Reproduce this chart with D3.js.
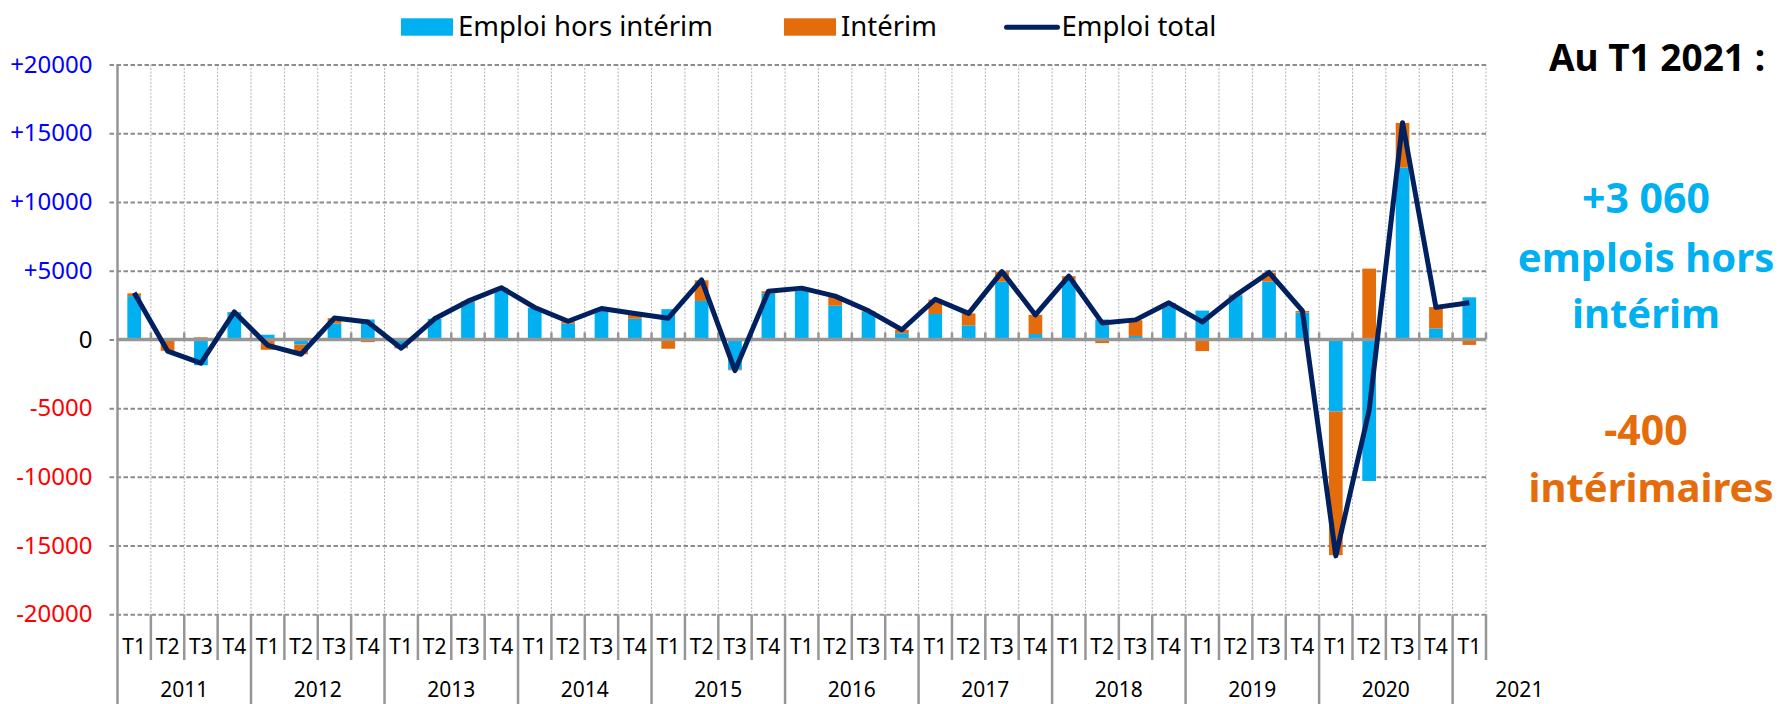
<!DOCTYPE html>
<html>
<head>
<meta charset="utf-8">
<script src="https://cdn.jsdelivr.net/npm/d3@7"></script>
<style>
  body { margin: 0; background: #fff; }
  svg { display: block; font-family: "Noto Sans", sans-serif; }
</style>
</head>
<body>
<svg id="viz"></svg>
<script>
// ---- data ----
const years = ["2011", "2012", "2013", "2014", "2015", "2016", "2017", "2018", "2019", "2020", "2021"];
const quarterNames = ["T1", "T2", "T3", "T4"];

// variation trimestrielle (2011 T1 .. 2021 T1)
const horsInterim = [
  3150, -50, -1880, 1980,
  340, -380, 1150, 1450,
  -550, 1500, 2750, 3750,
  2300, 1150, 2250, 1500,
  2200, 2800, -2200, 3350,
  3750, 2450, 2000, 450,
  1850, 1020, 4200, 390,
  4350, 1450, 250, 2650,
  2100, 3200, 4200, 1950,
  -5250, -10300, 12500, 800,
  3060
];
const interim = [
  200, -780, 150, 20,
  -760, -700, 400, -200,
  -100, 0, 30, 0,
  0, 150, 0, 350,
  -680, 1500, -50, 150,
  0, 700, 50, 250,
  1050, 870, 730, 1400,
  250, -270, 1150, 0,
  -850, 60, 650, 120,
  -10450, 5150, 3250, 1550,
  -400
];
const emploiTotal = [
  3390, -850, -1730, 2000,
  -430, -1080, 1560, 1260,
  -640, 1500, 2780, 3760,
  2320, 1320, 2250, 1880,
  1540, 4330, -2270, 3500,
  3730, 3150, 2080, 700,
  2920, 1890, 4930, 1780,
  4610, 1200, 1420, 2660,
  1270, 3200, 4870, 2070,
  -15750, -5150, 15770, 2330,
  2660
];
const yTicks = [20000, 15000, 10000, 5000, 0, -5000, -10000, -15000, -20000];

const legendItems = [
  { label: "Emploi hors intérim", type: "rect", color: "#00B0F0" },
  { label: "Intérim", type: "rect", color: "#E46C0A" },
  { label: "Emploi total", type: "line", color: "#002060" }
];

// ---- chart ----
const width = 1778, height = 704;
const margin = { top: 64.5, right: 292, bottom: 89.7, left: 117.5 };

const periods = [];
years.forEach(y => quarterNames.forEach(q => {
  if (periods.length < horsInterim.length) periods.push({ year: y, q: q, key: y + q });
}));

const rows = periods.map((p, i) => ({ key: p.key, hors: horsInterim[i], interim: interim[i], total: emploiTotal[i] }));

const svg = d3.select("#viz")
  .attr("width", width)
  .attr("height", height)
  .attr("viewBox", [0, 0, width, height]);

const x = d3.scaleBand()
  .domain(periods.map(p => p.key))
  .range([margin.left, width - margin.right])
  .paddingInner(0).paddingOuter(0);
const bw = x.bandwidth();

const y = d3.scaleLinear()
  .domain([-20000, 20000])
  .range([height - margin.bottom, margin.top]);

const plotBottom = y(-20000);
const plotRight = width - margin.right;

// vertical dotted gridlines at category boundaries
svg.append("g")
  .selectAll("line")
  .data(d3.range(1, periods.length + 1))
  .join("line")
    .attr("x1", i => margin.left + i * bw)
    .attr("x2", i => margin.left + i * bw)
    .attr("y1", y(20000))
    .attr("y2", plotBottom)
    .attr("stroke", "#b4b4b4")
    .attr("stroke-width", 1)
    .attr("stroke-dasharray", "2,1.5");

// horizontal dashed gridlines + tick labels
const yAxis = svg.append("g")
  .attr("transform", `translate(${margin.left},0)`)
  .call(d3.axisLeft(y).tickValues(yTicks).tickSize(-(plotRight - margin.left)).tickPadding(25)
    .tickFormat(d => d > 0 ? "+" + d : String(d)))
  .call(g => g.select(".domain").remove());

yAxis.selectAll(".tick line")
  .attr("x1", -8)
  .attr("stroke", "#8c8c8c")
  .attr("stroke-width", 2)
  .attr("stroke-dasharray", "4.5,2.5");

yAxis.selectAll(".tick text")
  .attr("font-size", 24)
  .attr("font-family", "'Noto Sans', sans-serif")
  .attr("fill", d => d > 0 ? "#0000FF" : (d < 0 ? "#FF0000" : "#000"));

// stacked bars (diverging)
const stack = d3.stack()
  .keys(["hors", "interim"])
  .offset(d3.stackOffsetDiverging);
const series = stack(rows);
const colors = { hors: "#00B0F0", interim: "#E46C0A" };
const barW = bw * 0.41;

svg.append("g")
  .selectAll("g")
  .data(series)
  .join("g")
    .attr("fill", s => colors[s.key])
  .selectAll("rect")
  .data(s => s)
  .join("rect")
    .attr("x", d => x(d.data.key) + (bw - barW) / 2)
    .attr("width", barW)
    .attr("y", d => y(Math.max(d[0], d[1])))
    .attr("height", d => Math.abs(y(d[0]) - y(d[1])));

// zero line with tick marks
const y0 = y(0);
svg.append("line")
  .attr("x1", margin.left).attr("x2", plotRight)
  .attr("y1", y0).attr("y2", y0)
  .attr("stroke", "#969696").attr("stroke-width", 3.5);

svg.append("g")
  .selectAll("line")
  .data(d3.range(1, periods.length + 1))
  .join("line")
    .attr("x1", i => margin.left + i * bw)
    .attr("x2", i => margin.left + i * bw)
    .attr("y1", y0 - 7)
    .attr("y2", y0)
    .attr("stroke", "#969696")
    .attr("stroke-width", 2.5);

// left axis line (runs down through the label area)
svg.append("line")
  .attr("x1", margin.left).attr("x2", margin.left)
  .attr("y1", y(20000)).attr("y2", height)
  .attr("stroke", "#969696").attr("stroke-width", 2.5);

// category separators
svg.append("g")
  .selectAll("line")
  .data(d3.range(1, periods.length + 1))
  .join("line")
    .attr("x1", i => margin.left + i * bw)
    .attr("x2", i => margin.left + i * bw)
    .attr("y1", plotBottom)
    .attr("y2", i => (i % 4 === 0) ? height : 660)
    .attr("stroke", "#969696")
    .attr("stroke-width", 2.5);

// quarter labels
svg.append("g")
  .selectAll("text")
  .data(periods)
  .join("text")
    .attr("x", d => x(d.key) + bw / 2)
    .attr("y", 653.5)
    .attr("text-anchor", "middle")
    .attr("font-size", 21)
    .attr("fill", "#000")
    .text(d => d.q);

// year labels (centered on 4 quarters)
svg.append("g")
  .selectAll("text")
  .data(years)
  .join("text")
    .attr("x", (d, k) => margin.left + (4 * k + 2) * bw)
    .attr("y", 697)
    .attr("text-anchor", "middle")
    .attr("font-size", 21)
    .attr("fill", "#000")
    .text(d => d);

// total line
const line = d3.line()
  .x(d => x(d.key) + bw / 2)
  .y(d => y(d.total));

svg.append("path")
  .datum(rows)
  .attr("d", line)
  .attr("fill", "none")
  .attr("stroke", "#002060")
  .attr("stroke-width", 5)
  .attr("stroke-linejoin", "round");

// legend
const legendX = [401, 784, 1004.5];
const legend = svg.append("g");
legendItems.forEach((item, i) => {
  const g = legend.append("g").attr("transform", `translate(${legendX[i]},0)`);
  if (item.type === "rect") {
    g.append("rect").attr("x", 0).attr("y", 18.3).attr("width", 52).attr("height", 17.4).attr("fill", item.color);
  } else {
    g.append("line").attr("x1", 2).attr("x2", 53).attr("y1", 27.3).attr("y2", 27.3)
      .attr("stroke", item.color).attr("stroke-width", 5).attr("stroke-linecap", "round");
  }
  g.append("text")
    .attr("x", 57)
    .attr("y", 36)
    .attr("font-size", 27.5)
    .attr("fill", "#000")
    .text(item.label);
});

// right side annotation
const notes = [
  { text: "Au T1 2021 :", x: 1657, y: 71, size: 37, color: "#000" },
  { text: "+3 060", x: 1646, y: 213, size: 41, color: "#00B0F0" },
  { text: "emplois hors", x: 1646, y: 272, size: 40, color: "#00B0F0" },
  { text: "intérim", x: 1646, y: 328, size: 40, color: "#00B0F0" },
  { text: "-400", x: 1646, y: 445, size: 41, color: "#E46C0A" },
  { text: "intérimaires", x: 1651, y: 502, size: 40, color: "#E46C0A" }
];
svg.append("g")
  .selectAll("text")
  .data(notes)
  .join("text")
    .attr("x", d => d.x)
    .attr("y", d => d.y)
    .attr("text-anchor", "middle")
    .attr("font-weight", "bold")
    .attr("font-size", d => d.size)
    .attr("fill", d => d.color)
    .text(d => d.text);
</script>
</body>
</html>
